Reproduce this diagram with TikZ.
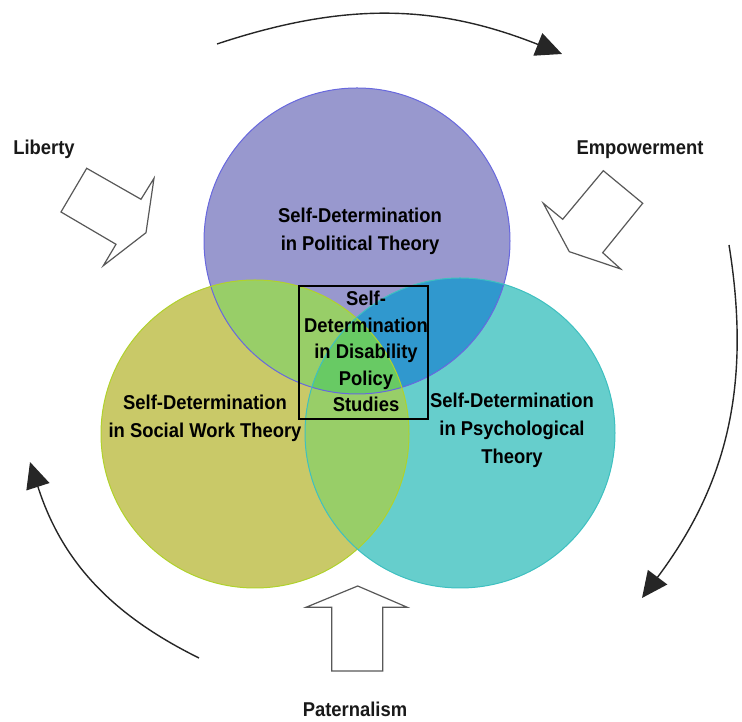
\documentclass[tikz,border=0pt]{standalone}
\usepackage{fontspec}
\setmainfont{Liberation Sans}[FakeStretch=0.92]
\usepackage{xcolor}
\usetikzlibrary{arrows.meta}
\definecolor{polfill}{RGB}{152,152,206}
\definecolor{poledge}{RGB}{104,104,222}
\definecolor{socfill}{RGB}{201,201,104}
\definecolor{socedge}{RGB}{176,210,44}
\definecolor{psyfill}{RGB}{102,206,204}
\definecolor{psyedge}{RGB}{62,192,192}
\definecolor{mixgreen}{RGB}{152,206,104}
\definecolor{mixblue}{RGB}{48,152,206}
\definecolor{coregreen}{RGB}{104,202,100}
\definecolor{arrgray}{RGB}{88,88,88}
\tikzset{
  venntext/.style={font=\fontsize{20}{28}\selectfont\bfseries, align=center, text=black, inner sep=0pt},
  coretext/.style={font=\fontsize{20}{26.5}\selectfont\bfseries, align=center, text=black, inner sep=0pt},
  forcelabel/.style={font=\fontsize{20}{24}\selectfont\bfseries, text=black!90, inner sep=0pt, anchor=base},
  corebox/.style={rectangle, draw=black, line width=1.2pt, minimum width=129pt, minimum height=133pt, inner sep=0pt},
  blockarrow/.style={draw=arrgray, fill=white, line width=1.2pt, line join=miter},
  cyclearrow/.style={-{Triangle[length=26pt,width=24pt]}, line width=1.4pt, draw=black!85},
}
\begin{document}
\begin{tikzpicture}[x=1pt,y=1pt]
  \useasboundingbox (0,0) rectangle (742,722);

  % centres of the three fields
  \coordinate (polc) at (357,481);
  \coordinate (socc) at (255,288);
  \coordinate (psyc) at (460,289);

  % plain discs
  \fill[polfill] (polc) circle (153);
  \fill[socfill] (socc) circle (154);
  \fill[psyfill] (psyc) circle (155);

  % overlaps
  \begin{scope}
    \clip (socc) circle (154);
    \fill[mixgreen] (psyc) circle (155);
  \end{scope}
  \begin{scope}
    \clip (polc) circle (153);
    \fill[mixgreen] (socc) circle (154);
    \fill[mixblue] (psyc) circle (155);
    \clip (socc) circle (154);
    \fill[coregreen] (psyc) circle (155);
  \end{scope}

  % rims
  \draw[poledge, line width=1pt] (polc) circle (153);
  \draw[socedge, line width=1pt] (socc) circle (154);
  \draw[psyedge, line width=1pt] (psyc) circle (155);

  \node[venntext] (poltxt) at (360,491) {Self-Determination\\in Political Theory};
  \node[venntext] (soctxt) at (205,304) {Self-Determination\\in Social Work Theory};
  \node[venntext] (psytxt) at (512,292) {Self-Determination\\in Psychological\\Theory};

  \node[corebox] (core) at (363.5,369.5) {};
  \node[coretext] (coretxt) at (366,370.5) {Self-\\Determination\\in Disability\\Policy\\Studies};

  % pushing forces
  \draw[blockarrow] (61,510) -- (86.7,553.7) -- (141,522.7) -- (154,543.7)
    -- (146,489.3) -- (103.3,456.3) -- (116,477.7) -- cycle;
  \draw[blockarrow] (603.3,551.3) -- (642.7,518.7) -- (602.7,469.3) -- (620.7,453)
    -- (569.3,470.3) -- (543.3,518.7) -- (562.7,502.7) -- cycle;
  \draw[blockarrow] (357.7,136) -- (407.3,114.7) -- (382.7,114.7) -- (382.7,51)
    -- (331.7,51) -- (331.7,114.7) -- (306,114.7) -- cycle;

  \node[forcelabel] (liberty) at (44,567) {Liberty};
  \node[forcelabel] (empower) at (640,567) {Empowerment};
  \node[forcelabel] (paternal) at (355,5) {Paternalism};

  % cycle round the diagram
  \coordinate (topstart) at (217,678);
  \coordinate (topend) at (562,668);
  \coordinate (rightstart) at (729,477);
  \coordinate (rightend) at (642,124);
  \coordinate (leftstart) at (199,64);
  \coordinate (leftend) at (30,260);
  \draw[cyclearrow] (topstart) to[bend left=20] (topend);
  \draw[cyclearrow] (rightstart) to[bend left=23] (rightend);
  \draw[cyclearrow] (leftstart) to[bend left=23] (leftend);
\end{tikzpicture}
\end{document}
